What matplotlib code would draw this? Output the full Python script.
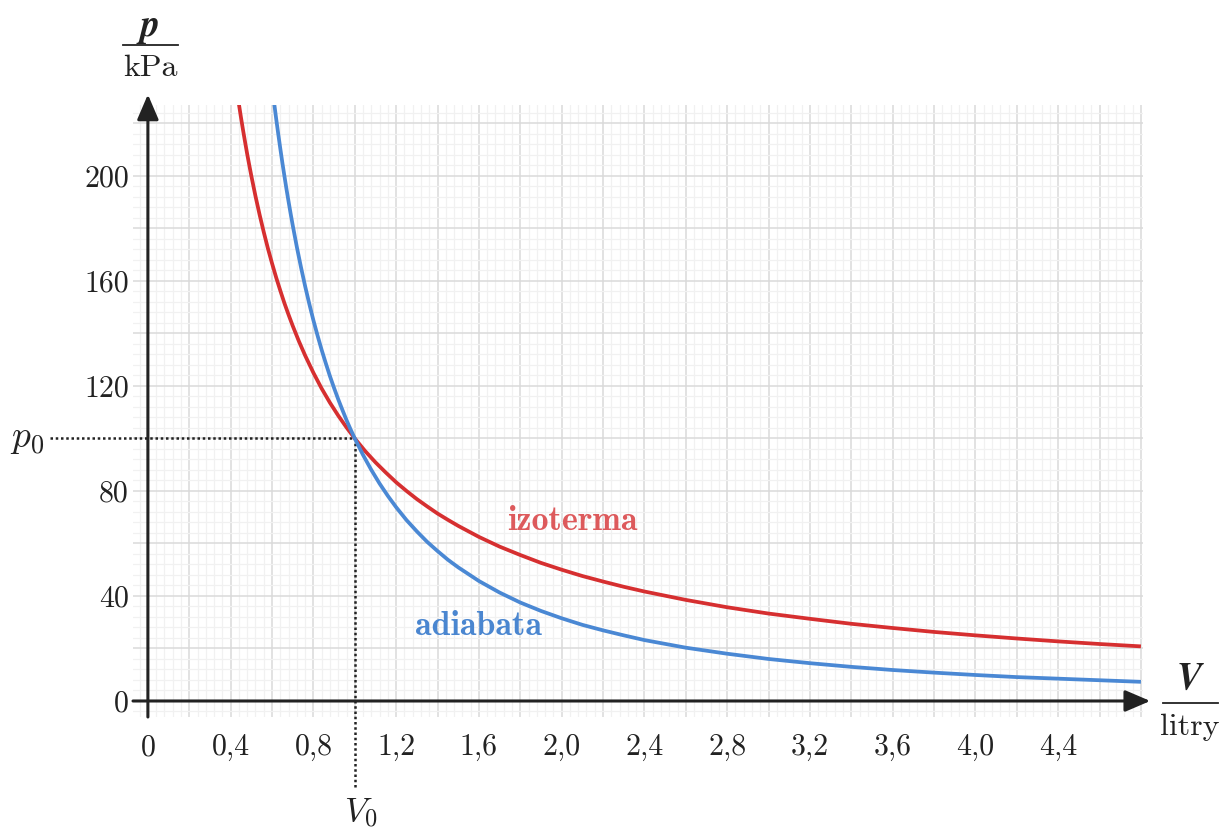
import matplotlib
matplotlib.use("Agg")
import matplotlib.pyplot as plt
from matplotlib.lines import Line2D

plt.rcParams['mathtext.fontset'] = 'cm'

# Data
V_iso = [0.43, 0.44, 0.45, 0.46, 0.47, 0.48, 0.49, 0.50, 0.52, 0.54, 0.56, 0.58, 0.60, 0.62, 0.64,
         0.66, 0.68, 0.70, 0.73, 0.76, 0.80, 0.84, 0.88, 0.92, 0.96, 1.00, 1.05, 1.10, 1.15, 1.20,
         1.25, 1.30, 1.35, 1.40, 1.45, 1.50, 1.60, 1.70, 1.80, 1.90, 2.00, 2.10, 2.20, 2.30, 2.40,
         2.60, 2.80, 3.00, 3.20, 3.40, 3.60, 3.80, 4.00, 4.20, 4.40, 4.60, 4.80]
p_iso = [232.6, 227.3, 222.2, 217.4, 212.8, 208.3, 204.1, 200.0, 192.3, 185.2, 178.6, 172.4, 166.7,
         161.3, 156.3, 151.5, 147.1, 142.9, 137.0, 131.6, 125.0, 119.0, 113.6, 108.7, 104.2, 100.0,
         95.2, 90.9, 87.0, 83.3, 80.0, 76.9, 74.1, 71.4, 69.0, 66.7, 62.5, 58.8, 55.6, 52.6, 50.0,
         47.6, 45.5, 43.5, 41.7, 38.5, 35.7, 33.3, 31.3, 29.4, 27.8, 26.3, 25.0, 23.8, 22.7, 21.7,
         20.8]

V_adi = [0.61, 0.62, 0.63, 0.64, 0.65, 0.66, 0.67, 0.68, 0.69, 0.70, 0.72, 0.74, 0.76, 0.78, 0.80,
         0.82, 0.84, 0.86, 0.88, 0.90, 0.92, 0.94, 0.96, 0.98, 1.00, 1.04, 1.08, 1.12, 1.16, 1.20,
         1.25, 1.30, 1.35, 1.40, 1.45, 1.50, 1.60, 1.70, 1.80, 1.90, 2.00, 2.10, 2.20, 2.30, 2.40,
         2.60, 2.80, 3.00, 3.20, 3.40, 3.60, 3.80, 4.00, 4.20, 4.40, 4.60, 4.80]
p_adi = [227.9, 221.8, 216.0, 210.4, 205.0, 199.9, 194.9, 190.2, 185.6, 181.2, 172.9, 165.2, 158.0,
         151.3, 145.0, 139.2, 133.7, 128.6, 123.7, 119.2, 114.9, 110.9, 107.0, 103.4, 100.0, 93.7,
         88.0, 82.8, 78.1, 73.8, 68.9, 64.6, 60.6, 57.1, 53.8, 50.9, 45.7, 41.3, 37.5, 34.3, 31.5,
         29.0, 26.9, 25.0, 23.2, 20.3, 18.0, 16.0, 14.4, 13.0, 11.8, 10.8, 9.9, 9.1, 8.5, 7.9, 7.3]

x_tick_vals = [0, 0.4, 0.8, 1.2, 1.6, 2.0, 2.4, 2.8, 3.2, 3.6, 4.0, 4.4]
x_tick_labels = ["0", "0,4", "0,8", "1,2", "1,6", "2,0", "2,4", "2,8", "3,2", "3,6", "4,0", "4,4"]
y_tick_vals = [0, 40, 80, 120, 160, 200]
y_tick_labels = ["0", "40", "80", "120", "160", "200"]

V0 = 1.0
p0 = 100.0

RED = "#d62f30"
BLUE = "#4a88d4"
RED_TXT = "#dd5a5c"
BLUE_TXT = "#4a86d0"
INK = "#222222"

W, H = 1221, 832
fig = plt.figure(figsize=(W / 100, H / 100), dpi=100)
ax = fig.add_axes([133 / W, 1 - 717 / H, (1143 - 133) / W, (717 - 105) / H])

xmin, xmax = -0.072, 4.81
ymin, ymax = -6.1, 227.0
ax.set_xlim(xmin, xmax)
ax.set_ylim(ymin, ymax)

# grid
major_x = [round(0.2 * i, 2) for i in range(0, 25)]
minor_x = [round(0.04 * i, 2) for i in range(-1, 121)]
major_y = [20 * i for i in range(0, 12)]
minor_y = [4 * i for i in range(-1, 57)]
ax.set_xticks(major_x)
ax.set_xticks(minor_x, minor=True)
ax.set_yticks(major_y)
ax.set_yticks(minor_y, minor=True)
ax.set_xticklabels([x_tick_labels[x_tick_vals.index(v)] if v in x_tick_vals else "" for v in major_x],
                   fontfamily="cmr10", fontsize=21.5, color=INK)
ax.set_yticklabels([y_tick_labels[y_tick_vals.index(v)] if v in y_tick_vals else "" for v in major_y],
                   fontfamily="cmr10", fontsize=21.5, color=INK)
ax.tick_params(axis="both", which="both", length=0)
ax.tick_params(axis="x", pad=12)
ax.tick_params(axis="y", pad=3)
ax.grid(which="major", color="#dadada", lw=1.1)
ax.grid(which="minor", color="#f1f1f1", lw=0.9)
ax.set_axisbelow(True)
for s in ax.spines.values():
    s.set_visible(False)

# axes with arrows
ax.annotate("", xy=(4.845, 0), xytext=(xmin, 0), annotation_clip=False,
            arrowprops=dict(arrowstyle="-|>,head_length=0.7,head_width=0.3", color=INK, lw=2.2,
                            shrinkA=0, shrinkB=0, mutation_scale=22))
ax.annotate("", xy=(0, 231), xytext=(0, ymin), annotation_clip=False,
            arrowprops=dict(arrowstyle="-|>,head_length=0.7,head_width=0.3", color=INK, lw=2.2,
                            shrinkA=0, shrinkB=0, mutation_scale=22))

# dotted guides
ax.plot([-0.475, V0], [p0, p0], color=INK, lw=1.8, dashes=(1, 1.1), clip_on=False, zorder=3)
ax.plot([V0, V0], [p0, -33], color=INK, lw=1.8, dashes=(1, 1.1), clip_on=False, zorder=3)
ax.text(-0.585, p0, r"$p_0$", fontsize=27, ha="center", va="center", color=INK)
ax.text(1.03, -42.5, r"$V_0$", fontsize=25, ha="center", va="center", color=INK, clip_on=False)

# curves
ax.plot(V_iso, p_iso, color=RED, lw=2.7, solid_capstyle="butt", solid_joinstyle="round", zorder=4)
ax.plot(V_adi, p_adi, color=BLUE, lw=2.7, solid_capstyle="butt", solid_joinstyle="round", zorder=4)

ax.text(2.05, 68.5, "izoterma", fontfamily="cmb10", fontsize=24.5, color=RED_TXT,
        ha="center", va="center")
ax.text(1.60, 28.5, "adiabata", fontfamily="cmb10", fontsize=24.5, color=BLUE_TXT,
        ha="center", va="center")

# axis labels as fractions
fig.text(150 / W, 1 - 26 / H, "p", fontfamily="STIXGeneral", fontweight="bold", fontstyle="italic",
         fontsize=27, ha="center", va="center", color=INK)
fig.add_artist(Line2D([123 / W, 178 / W], [1 - 45 / H, 1 - 45 / H], color=INK, lw=1.3,
                      transform=fig.transFigure))
fig.text(150 / W, 1 - 68 / H, "kPa", fontfamily="cmr10", fontsize=23, ha="center", va="center",
         color=INK)

fig.text(1189 / W, 1 - 679 / H, "V", fontfamily="STIXGeneral", fontweight="bold", fontstyle="italic",
         fontsize=27, ha="center", va="center", color=INK)
fig.add_artist(Line2D([1163 / W, 1218 / W], [1 - 703 / H, 1 - 703 / H], color=INK, lw=1.3,
                      transform=fig.transFigure))
fig.text(1190 / W, 1 - 727 / H, "litry", fontfamily="cmr10", fontsize=23, ha="center", va="center",
         color=INK)

fig.savefig("out.png", dpi=100, facecolor="white")
